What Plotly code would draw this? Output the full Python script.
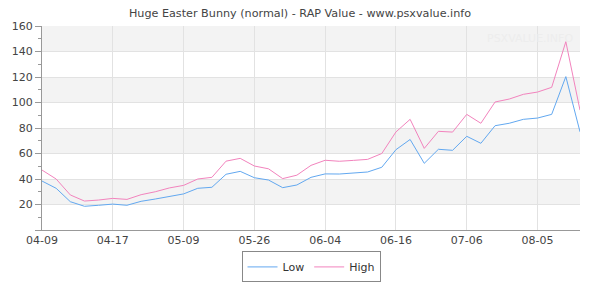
import plotly.graph_objects as go

dates = ["04-09", "04-10", "04-12", "04-13", "04-15", "04-17", "04-20", "04-24", "04-28", "05-03",
         "05-09", "05-12", "05-16", "05-19", "05-23", "05-26", "05-28", "05-30", "06-01", "06-02",
         "06-04", "06-06", "06-09", "06-11", "06-14", "06-16", "06-19", "06-23", "06-27", "07-01",
         "07-06", "07-12", "07-17", "07-23", "07-29", "08-05", "08-11", "08-17", "08-23"]

low = [38.4, 32.7, 22.2, 18.6, 19.4, 20.3, 19.4, 22.5, 24.3, 26.6,
       28.3, 32.7, 33.5, 43.7, 46.0, 41.0, 39.2, 33.2, 35.3, 41.3,
       44.0, 43.9, 44.6, 45.5, 49.2, 63.0, 71.0, 52.3, 63.3, 62.5,
       73.5, 68.0, 81.8, 83.7, 86.8, 87.8, 90.7, 120.3, 77.0]

high = [47.0, 40.0, 27.5, 22.7, 23.5, 24.8, 24.0, 27.7, 30.0, 33.0,
        35.0, 40.0, 41.3, 54.0, 56.2, 50.2, 48.0, 40.3, 43.0, 50.7,
        54.7, 53.9, 54.6, 55.4, 60.0, 76.9, 86.8, 64.0, 77.4, 76.8,
        90.7, 83.7, 100.4, 102.7, 106.4, 108.2, 111.9, 147.7, 94.0]

tick_dates = dates[::5][:8]
y_ticks = list(range(0, 161, 20))
y_labels = [""] + [str(v) for v in y_ticks[1:]]

fig = go.Figure()
fig.add_trace(go.Scatter(x=dates, y=low, name="Low", mode="lines",
                         line=dict(color="#62a8f0", width=1)))
fig.add_trace(go.Scatter(x=dates, y=high, name="High", mode="lines",
                         line=dict(color="#f283bd", width=1)))

# alternating bands
for lo, hi in zip(y_ticks[:-1], y_ticks[1:]):
    if (lo // 20) % 2 == 1:
        fig.add_shape(type="rect", xref="paper", yref="y", x0=0, x1=1, y0=lo, y1=hi,
                      fillcolor="#f3f3f3", line_width=0, layer="below")

fig.add_annotation(text="PSXVALUE.INFO", xref="paper", yref="y", x=0.99, y=150,
                   xanchor="right", yanchor="middle", showarrow=False,
                   font=dict(family="DejaVu Sans", size=11, color="#ededed"))

fig.update_layout(
    width=600, height=300,
    margin=dict(l=40, r=20, t=26, b=70),
    paper_bgcolor="white", plot_bgcolor="white",
    font=dict(family="DejaVu Sans", size=11, color="#444"),
    title=dict(text="Huge Easter Bunny (normal) - RAP Value - www.psxvalue.info",
               x=0.5, xanchor="center", y=0.955, yanchor="middle",
               font=dict(family="DejaVu Sans", size=11.2, color="#444")),
    showlegend=True,
    legend=dict(orientation="h", x=0.5, xanchor="center", y=-0.105, yanchor="top",
                bordercolor="#888", borderwidth=1, bgcolor="white",
                font=dict(size=11, color="#333"), itemwidth=30),
)
fig.update_xaxes(type="category", range=[0, len(dates) - 1],
                 tickmode="array", tickvals=tick_dates, ticktext=tick_dates,
                 showgrid=True, gridcolor="#e2e2e2", gridwidth=1,
                 showline=True, linecolor="#999", linewidth=1,
                 ticks="", tickfont=dict(size=11, color="#444"), zeroline=False)
fig.update_yaxes(range=[0, 160], tickmode="array", tickvals=y_ticks, ticktext=y_labels,
                 showgrid=True, gridcolor="#e2e2e2", gridwidth=1,
                 showline=True, linecolor="#999", linewidth=1,
                 ticks="outside", ticklen=6, tickcolor="#999",
                 minor=dict(dtick=10, ticks="outside", ticklen=3, tickcolor="#999", showgrid=False),
                 tickfont=dict(size=11, color="#444"), zeroline=False)

fig.write_html("out.html")
